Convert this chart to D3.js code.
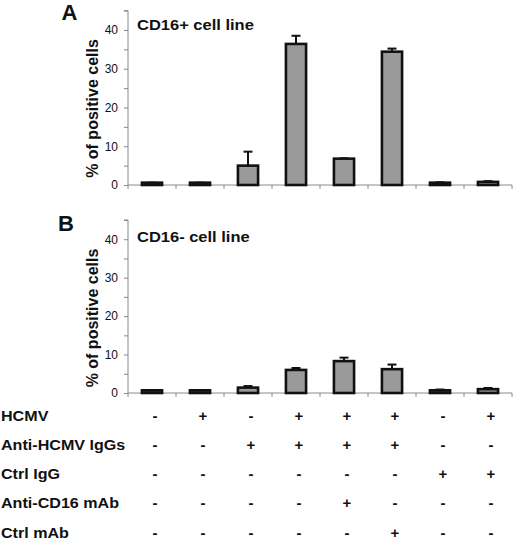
<!DOCTYPE html>
<html><head><meta charset="utf-8">
<script src="https://cdn.jsdelivr.net/npm/d3@7"></script>
<style>body{margin:0;background:#fff}svg{display:block}</style>
</head><body><svg id="c" width="520" height="543"></svg>
<script>
// ---- data ----
const categories = ["c1","c2","c3","c4","c5","c6","c7","c8"];
const panelAValues = [0.6, 0.6, 5.0, 36.4, 6.8, 34.4, 0.6, 0.8];
const panelAErrTop = [0.6, 0.6, 8.6, 38.5, 6.9, 35.2, 0.7, 1.0];
const panelBValues = [0.7, 0.7, 1.4, 6.0, 8.3, 6.2, 0.7, 1.0];
const panelBErrTop = [0.7, 0.7, 1.8, 6.5, 9.2, 7.4, 0.9, 1.3];
const yTickLabels = [0, 10, 20, 30, 40];
const yMax = 45;
const panelTitles = ["CD16+ cell line", "CD16- cell line"];
const panelLetters = ["A", "B"];
const yLabel = "% of positive cells";
const rowLabels = ["HCMV", "Anti-HCMV IgGs", "Ctrl IgG", "Anti-CD16 mAb", "Ctrl mAb"];
const rowHCMV     = ["-","+","-","+","+","+","-","+"];
const rowAntiHCMV = ["-","-","+","+","+","+","-","-"];
const rowCtrlIgG  = ["-","-","-","-","-","-","+","+"];
const rowAntiCD16 = ["-","-","-","-","+","-","-","-"];
const rowCtrlMAb  = ["-","-","-","-","-","+","-","-"];
const rowSigns = [rowHCMV, rowAntiHCMV, rowCtrlIgG, rowAntiCD16, rowCtrlMAb];

// ---- drawing ----
const svg = d3.select("#c");
const FONT = "Liberation Sans, Arial, Helvetica, sans-serif";
const x = d3.scaleBand().domain(categories).range([128, 512]);
const barW = x.bandwidth() * 0.42;

const panels = [
  {values: panelAValues, err: panelAErrTop, y: d3.scaleLinear([0, yMax], [185, 10.6]), title: panelTitles[0], letter: panelLetters[0], titleY: 30, letterY: 19.5, labelY: 108.5},
  {values: panelBValues, err: panelBErrTop, y: d3.scaleLinear([0, yMax], [393, 220]), title: panelTitles[1], letter: panelLetters[1], titleY: 241.5, letterY: 231, labelY: 318}
];

panels.forEach(p => {
  const g = svg.append("g");
  const y = p.y;
  // y axis
  const ya = d3.axisLeft(y).tickValues(d3.range(0, yMax + 1, 5)).tickSize(4).tickPadding(6)
    .tickFormat(d => yTickLabels.includes(d) ? d : "");
  const yg = g.append("g").attr("transform", "translate(128,0)").call(ya);
  yg.select(".domain").attr("stroke", "#8a8a8a").attr("stroke-width", 1).attr("d", `M-4,${y(yMax)}H0V${y(0)}`);
  yg.selectAll(".tick line").attr("stroke", "#8a8a8a");
  yg.selectAll(".tick text").attr("font-family", FONT).attr("font-size", 12).attr("fill", "#111");
  // x axis
  const xa = g.append("g");
  xa.append("line").attr("x1", x.range()[0]).attr("x2", x.range()[1]).attr("y1", y(0)).attr("y2", y(0))
    .attr("stroke", "#8a8a8a").attr("stroke-width", 1);
  const bounds = categories.map(c => x(c)).concat([x.range()[1]]);
  xa.selectAll("line.t").data(bounds).join("line").attr("class", "t")
    .attr("x1", d => d).attr("x2", d => d).attr("y1", y(0)).attr("y2", y(0) + 4)
    .attr("stroke", "#8a8a8a");
  // error bars
  const cx = c => x(c) + x.bandwidth() / 2;
  g.selectAll("line.err").data(categories).join("line").attr("class", "err")
    .attr("x1", cx).attr("x2", cx)
    .attr("y1", (c, i) => y(p.values[i])).attr("y2", (c, i) => y(p.err[i]))
    .attr("stroke", "#111").attr("stroke-width", 2);
  g.selectAll("line.cap").data(categories).join("line").attr("class", "cap")
    .attr("x1", c => cx(c) - 4.5).attr("x2", c => cx(c) + 4.5)
    .attr("y1", (c, i) => y(p.err[i])).attr("y2", (c, i) => y(p.err[i]))
    .attr("stroke", "#111").attr("stroke-width", 2);
  // bars
  g.selectAll("rect.bar").data(categories).join("rect").attr("class", "bar")
    .attr("x", c => cx(c) - barW / 2).attr("width", barW)
    .attr("y", (c, i) => y(p.values[i])).attr("height", (c, i) => y(0) - y(p.values[i]))
    .attr("fill", "#9a9a9a").attr("stroke", "#111").attr("stroke-width", 2.6);
  // texts
  g.append("text").attr("transform", `translate(137,${p.titleY}) scale(1.1,1)`)
    .attr("font-family", FONT).attr("font-weight", "bold").attr("font-size", 15).attr("fill", "#111").text(p.title);
  g.append("text").attr("transform", `translate(${p.letter === "A" ? 61.5 : 58},${p.letterY})`)
    .attr("font-family", FONT).attr("font-weight", "bold").attr("font-size", 22).attr("fill", "#111").text(p.letter);
  g.append("text").attr("transform", `translate(98,${p.labelY}) rotate(-90)`).attr("text-anchor", "middle")
    .attr("font-family", FONT).attr("font-weight", "bold").attr("font-size", 16).attr("fill", "#111").text(yLabel);
});

// condition table
const rowY = d3.scalePoint().domain(rowLabels).range([421, 537.5]);
const tg = svg.append("g");
rowLabels.forEach((lab, r) => {
  tg.append("text").attr("transform", `translate(1,${rowY(lab)}) scale(1.15,1)`)
    .attr("font-family", FONT).attr("font-weight", "bold").attr("font-size", 14).attr("fill", "#111").text(lab);
  tg.selectAll(null).data(categories).join("text")
    .attr("x", (c) => x(c) + x.bandwidth() / 2 + 3).attr("y", rowY(lab))
    .attr("text-anchor", "middle").attr("font-family", FONT).attr("font-weight", "bold").attr("font-size", 15).attr("fill", "#111")
    .text((c, i) => rowSigns[r][i]);
});
</script></body></html>
